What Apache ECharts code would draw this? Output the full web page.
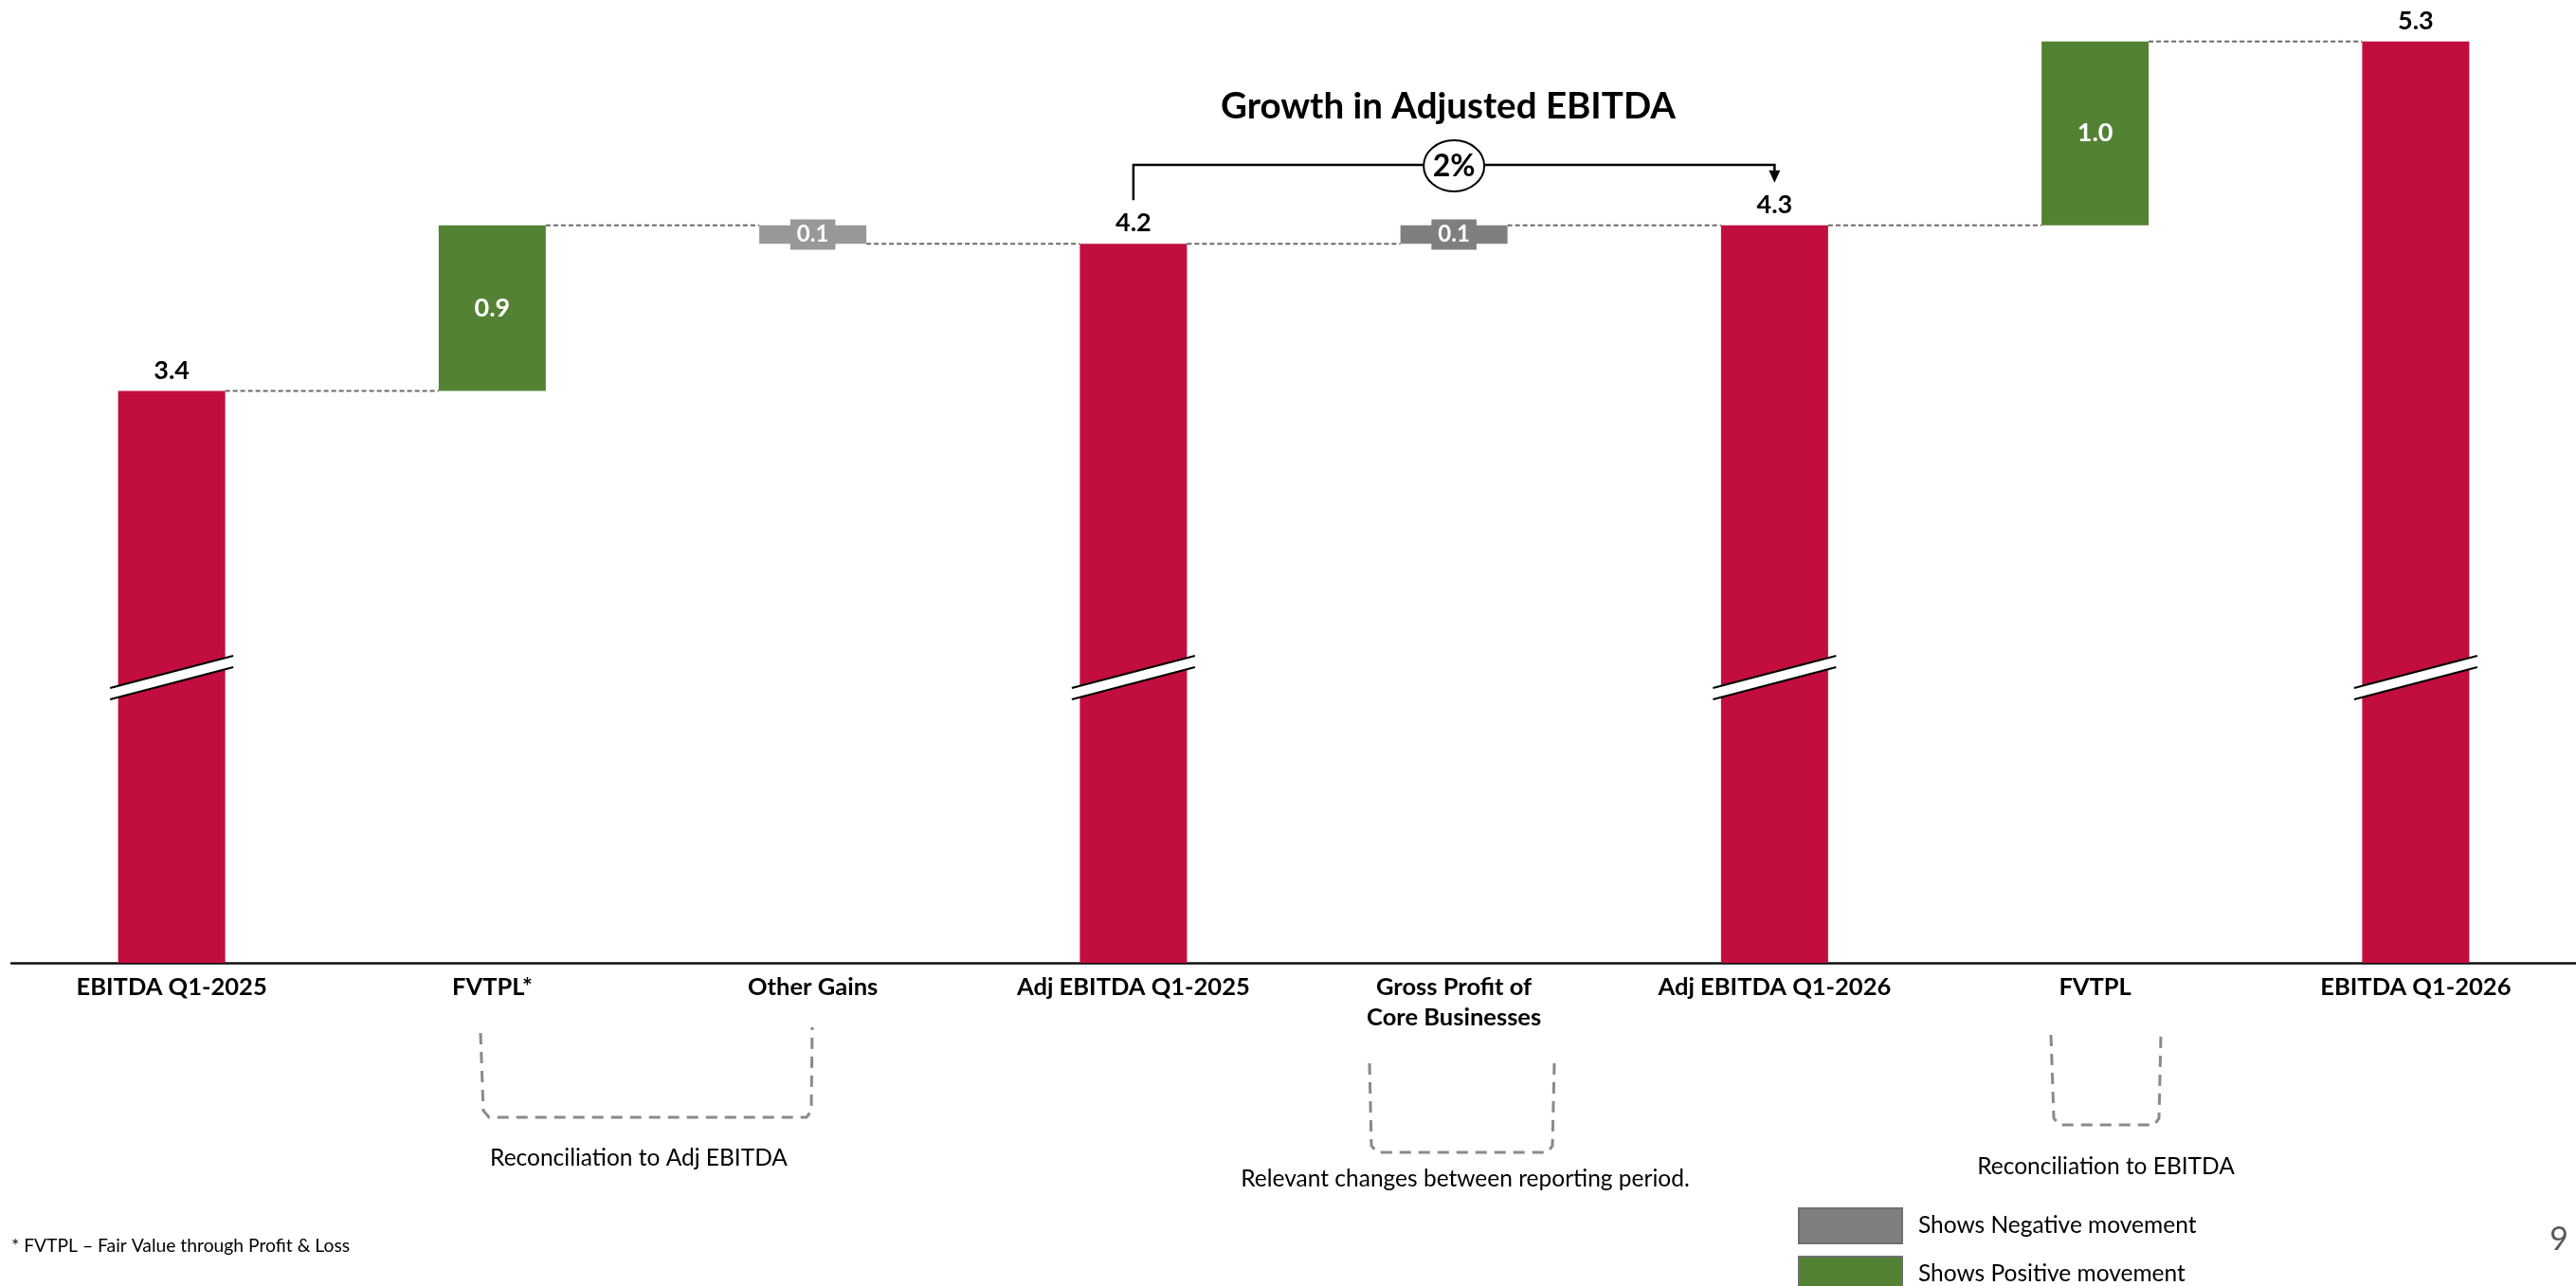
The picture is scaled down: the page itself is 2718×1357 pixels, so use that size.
<!DOCTYPE html>
<html>
<head>
<meta charset="utf-8">
<title>Adjusted EBITDA bridge</title>
<script src="https://cdn.jsdelivr.net/npm/echarts@6.0.0/dist/echarts.min.js"></script>
<style>
  html, body { margin: 0; padding: 0; background: #ffffff; }
  #chart { width: 2718px; height: 1357px; }
</style>
</head>
<body>
<div id="chart"></div>
<script>
// ---- data -------------------------------------------------------------
const categories = [
  'EBITDA Q1-2025', 'FVTPL*', 'Other Gains', 'Adj EBITDA Q1-2025',
  'Gross Profit of\nCore Businesses', 'Adj EBITDA Q1-2026', 'FVTPL', 'EBITDA Q1-2026'
];
// period totals (null where the column is a movement)
const totals = [3.4, null, null, 4.2, null, 4.3, null, 5.3];
// movements between totals (null where the column is a total)
const changes = [null, 0.9, -0.1, null, 0.1, null, 1.0, null];
// which legend class each movement belongs to
const movementGroup = [null, 'positive', 'negative', null, 'negative', null, 'positive', null];
const legendNames = { positive: 'Shows Positive movement', negative: 'Shows Negative movement' };
// truncated part of the value axis
const axisBreak = { start: 1.52, end: 1.873, gap: 0.06 };
// growth comparison between the two adjusted totals
const growthFromIdx = 3, growthToIdx = 5;
const noteTexts = ['Reconciliation to Adj EBITDA', 'Relevant changes between reporting period.', 'Reconciliation to EBITDA'];
const footnote = '* FVTPL \u2013 Fair Value through Profit & Loss';
const pageNumber = '9';

// ---- derived waterfall series ------------------------------------------
const levels = [];
const bases = [];
let running = 0;
categories.forEach((c, i) => {
  if (totals[i] != null) {
    running = totals[i];
    bases.push(0);
  } else {
    const next = running + changes[i];
    bases.push(+Math.min(running, next).toFixed(4));
    running = next;
  }
  levels.push(+running.toFixed(4));
});

const RED = '#C10E3E', GREEN = '#548235', GREY = '#7F7F7F';
const shadeByCategory = { 'Other Gains': '#989898' };
const FONT = 'Lato';
const BAR_W = 113;

const fmt = p => Math.abs(p.value).toFixed(1);

const movementData = group => changes.map((v, i) => {
  if (movementGroup[i] !== group) return '-';
  const item = { value: +Math.abs(v).toFixed(4) };
  const shade = shadeByCategory[categories[i]];
  if (shade) {
    item.itemStyle = { color: shade };
    item.label = { backgroundColor: shade };
  }
  return item;
});

const legendBox = (name, top) => ({
  data: [name],
  orient: 'vertical',
  left: 1897,
  top: top,
  padding: 0,
  itemWidth: 109,
  itemHeight: 37,
  icon: 'rect',
  selectedMode: false,
  itemStyle: { borderColor: '#6f6f6f', borderWidth: 2 },
  textStyle: { fontFamily: FONT, fontSize: 24.5, color: '#000', padding: [0, 0, 0, 12] }
});

const option = {
  animation: false,
  backgroundColor: '#ffffff',
  textStyle: { fontFamily: FONT },
  grid: { left: 12, width: 2716, top: 4.8, height: 1011.2, containLabel: false },
  legend: [
    legendBox(legendNames.negative, 1274),
    legendBox(legendNames.positive, 1325)
  ],
  xAxis: {
    type: 'category',
    data: categories,
    axisTick: { show: false },
    axisLine: { lineStyle: { color: '#111', width: 2.5 } },
    axisLabel: {
      interval: 0,
      margin: 10,
      fontFamily: FONT,
      fontWeight: 'bold',
      fontSize: 25.5,
      lineHeight: 32,
      color: '#000'
    }
  },
  yAxis: {
    type: 'value',
    min: 0,
    max: 5.5,
    breaks: [axisBreak],
    breakArea: { show: false },
    axisLine: { show: false },
    axisTick: { show: false },
    axisLabel: { show: false },
    splitLine: { show: false }
  },
  series: [
    {
      name: 'base', type: 'bar', stack: 'wf', barWidth: BAR_W, silent: true,
      itemStyle: { color: 'rgba(0,0,0,0)' },
      emphasis: { disabled: true },
      data: bases
    },
    {
      name: 'Total', type: 'bar', stack: 'wf', barWidth: BAR_W, z: 3,
      itemStyle: { color: RED },
      label: {
        show: true, position: 'top', distance: 8, formatter: fmt,
        fontFamily: FONT, fontWeight: 'bold', fontSize: 27, color: '#000'
      },
      data: totals.map(v => v == null ? '-' : v)
    },
    {
      name: legendNames.positive, type: 'bar', stack: 'wf', barWidth: BAR_W, z: 3,
      itemStyle: { color: GREEN },
      label: {
        show: true, position: 'inside', formatter: fmt,
        fontFamily: FONT, fontWeight: 'bold', fontSize: 27, color: '#fff'
      },
      data: movementData('positive')
    },
    {
      name: legendNames.negative, type: 'bar', stack: 'wf', barWidth: BAR_W, z: 3,
      itemStyle: { color: GREY },
      label: {
        show: true, position: 'inside', formatter: fmt,
        fontFamily: FONT, fontWeight: 'bold', fontSize: 24, lineHeight: 24, color: '#fff',
        backgroundColor: GREY, padding: [4, 7, 4, 7]
      },
      data: movementData('negative')
    },
    {
      // dashed connectors from each column's end level to the next column
      name: 'connectors', type: 'custom', silent: true, clip: false, z: 1,
      data: levels.slice(0, -1).map((lv, i) => [i, lv]),
      renderItem: (params, api) => {
        const i = api.value(0), lv = api.value(1);
        const a = api.coord([i, lv]);
        const b = api.coord([i + 1, lv]);
        return {
          type: 'line',
          shape: { x1: a[0] + BAR_W / 2, y1: a[1], x2: b[0] - BAR_W / 2, y2: a[1] },
          style: { stroke: '#6a6a6a', lineWidth: 2, lineDash: [5, 3] }
        };
      }
    },
    {
      // slanted break marks across the total columns
      name: 'breaks', type: 'custom', silent: true, clip: false, z: 10,
      data: totals.map((v, i) => v == null ? null : [i, v]).filter(Boolean),
      renderItem: (params, api) => {
        const i = api.value(0);
        const xc = api.coord([i, axisBreak.end])[0];
        const ya = api.coord([i, axisBreak.start])[1];
        const yb = api.coord([i, axisBreak.end])[1];
        const yc = (ya + yb) / 2;
        const hw = 65, rise = 17, half = 6;
        const p1 = [xc - hw, yc + rise - half], p2 = [xc + hw, yc - rise - half];
        const p3 = [xc + hw, yc - rise + half], p4 = [xc - hw, yc + rise + half];
        return {
          type: 'group',
          children: [
            { type: 'polygon', shape: { points: [p1, p2, p3, p4] }, style: { fill: '#fff' } },
            { type: 'line', shape: { x1: p1[0], y1: p1[1], x2: p2[0], y2: p2[1] }, style: { stroke: '#000', lineWidth: 2.2 } },
            { type: 'line', shape: { x1: p4[0], y1: p4[1], x2: p3[0], y2: p3[1] }, style: { stroke: '#000', lineWidth: 2.2 } }
          ]
        };
      }
    }
  ]
};

const chart = echarts.init(document.getElementById('chart'), null, { renderer: 'canvas' });
chart.setOption(option);

// ---- annotations -------------------------------------------------------
const px = (i, v) => chart.convertToPixel({ gridIndex: 0 }, [i, v]);
const fromPt = px(growthFromIdx, totals[growthFromIdx]);
const toPt = px(growthToIdx, totals[growthToIdx]);
const bracketY = 174;
const growthPct = Math.round((totals[growthToIdx] / totals[growthFromIdx] - 1) * 100) + '%';
const midX = (fromPt[0] + toPt[0]) / 2;
const tipY = toPt[1] - 45;

const dashedBracket = pts => ({
  type: 'polyline',
  shape: { points: pts },
  style: { stroke: '#8a8a8a', lineWidth: 3, lineDash: [12, 8], fill: null }
});
const note = (x, y, text) => ({
  type: 'text', x: x, y: y,
  style: { text: text, fontFamily: FONT, fontSize: 24.5, fill: '#000', align: 'center', verticalAlign: 'middle' }
});

chart.setOption({
  graphic: [
    {
      type: 'text', x: 1528, y: 113,
      style: { text: 'Growth in Adjusted EBITDA', fontFamily: FONT, fontWeight: 'bold', fontSize: 38.5, fill: '#000', align: 'center', verticalAlign: 'middle' }
    },
    {
      type: 'polyline',
      shape: { points: [[fromPt[0], fromPt[1] - 46], [fromPt[0], bracketY], [toPt[0], bracketY], [toPt[0], tipY - 11]] },
      style: { stroke: '#000', lineWidth: 2.5, fill: null }
    },
    {
      type: 'polygon',
      shape: { points: [[toPt[0] - 6, tipY - 13], [toPt[0] + 6, tipY - 13], [toPt[0], tipY]] },
      style: { fill: '#000' }
    },
    {
      type: 'ellipse',
      shape: { cx: midX, cy: bracketY + 1, rx: 32, ry: 27 },
      style: { fill: '#fff', stroke: '#000', lineWidth: 2 }
    },
    {
      type: 'text', x: midX, y: bracketY + 2,
      style: { text: growthPct, fontFamily: FONT, fontWeight: 'bold', fontSize: 32, fill: '#000', align: 'center', verticalAlign: 'middle' }
    },
    dashedBracket([[507, 1090], [510, 1172], [516, 1179], [851, 1179], [856, 1172], [857, 1084]]),
    dashedBracket([[1445, 1122], [1447, 1209], [1453, 1216], [1633, 1216], [1638, 1209], [1640, 1122]]),
    dashedBracket([[2164, 1092], [2167, 1180], [2173, 1187], [2273, 1187], [2278, 1180], [2280, 1092]]),
    note(674, 1222, noteTexts[0]),
    note(1546, 1244, noteTexts[1]),
    note(2222, 1231, noteTexts[2]),
    {
      type: 'text', x: 12, y: 1315,
      style: { text: footnote, fontFamily: FONT, fontSize: 19.3, fill: '#000', align: 'left', verticalAlign: 'middle' }
    },
    {
      type: 'text', x: 2700, y: 1308,
      style: { text: pageNumber, fontFamily: FONT, fontSize: 34, fill: '#595959', align: 'center', verticalAlign: 'middle' }
    }
  ]
});
</script>
</body>
</html>
